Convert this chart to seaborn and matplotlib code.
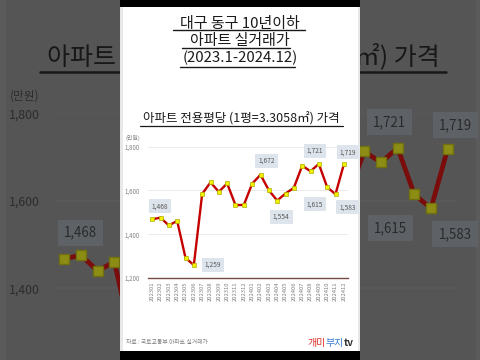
import matplotlib
matplotlib.use('Agg')
import matplotlib.pyplot as plt
import seaborn as sns
import pandas as pd
from matplotlib.patches import Rectangle
from matplotlib.lines import Line2D

# ---------------- data ----------------
months = ['202301', '202302', '202303', '202304', '202305', '202306',
          '202307', '202308', '202309', '202310', '202311', '202312',
          '202401', '202402', '202403', '202404', '202405', '202406',
          '202407', '202408', '202409', '202410', '202411', '202412']
prices = [1468, 1476, 1440, 1461, 1292, 1259,
          1584, 1637, 1594, 1632, 1533, 1534,
          1631, 1672, 1601, 1554, 1586, 1612,
          1713, 1688, 1721, 1615, 1583, 1719]
labeled_months = ['202301', '202306', '202402', '202404',
                  '202409', '202410', '202411', '202412']
y_ticks = [1200, 1400, 1600, 1800]
title_lines = ['대구 동구 10년이하', '아파트 실거래가', '(2023.1-2024.12)']
chart_title = '아파트 전용평당 (1평=3.3058㎡) 가격'
unit_label = '(만원)'
source_text = '자료 : 국토교통부 아파트 실거래가'
logo_parts = ['개미', '부지', 'tv']

# ---------------- layout (pixel positions in the 480x360 frame) ----------------
W, H = 480, 360
label_offsets = {  # px offsets (dx, dy, y down) of value boxes from their point
    '202301': (8, -13), '202306': (19, 0), '202402': (6, -14), '202404': (4, 16),
    '202409': (-4, -13), '202410': (-12, 17), '202411': (12, 13), '202412': (4, -12)}
underlines = [(29.6, 173, 305), (48.4, 182, 290), (67.0, 180, 295)]

sns.set_theme(style='white')
plt.rcParams['font.family'] = ['Noto Sans CJK KR', 'DejaVu Sans']

fig = plt.figure(figsize=(4.8, 3.6), dpi=100)
fig.patch.set_facecolor('#555555')
renderer = fig.canvas.get_renderer()


def P(x, y, s):
    X = 240 + s * (x - 240)
    Y = 180 + s * (y - 180)
    return X / W, 1 - Y / H


def rect(x0, y0, x1, y1, s, color, z):
    fx0, fy0 = P(x0, y1, s)
    fx1, fy1 = P(x1, y0, s)
    fig.add_artist(Rectangle((fx0, fy0), fx1 - fx0, fy1 - fy0,
                             transform=fig.transFigure, facecolor=color,
                             edgecolor='none', zorder=z))


def hline(x0, x1, y, s, color, lw, z):
    fx0, fy = P(x0, y, s)
    fx1, _ = P(x1, y, s)
    fig.add_artist(Line2D([fx0, fx1], [fy, fy], transform=fig.transFigure,
                          color=color, lw=lw, zorder=z))


def text(x, y, s, t, fs, color, z, ha='center', weight='normal', **kw):
    fx, fy = P(x, y, s)
    return fig.text(fx, fy, t, fontsize=fs * s, color=color, ha=ha, va='center',
                    zorder=z, fontweight=weight, **kw)


def draw_panel(s, pal, z, front):
    rect(120, 7, 360, 351, s, pal['panel'], z)
    rect(120, 7, 123, 351, s, pal['border'], z + 0.1)
    rect(358, 7, 360, 351, s, pal['border'], z + 0.1)

    if front:
        text(240, 41.3, s, '\n'.join(title_lines), 10.8, pal['title'], z + 2,
             linespacing=1.24, multialignment='center')
        for y, x0, x1 in underlines:
            hline(x0, x1, y, s, pal['title'], 1.0 * s, z + 2)

    text(241.5, 118.5, s, chart_title, 9, pal['title'], z + 2)
    hline(140, 343, 125.8, s, pal['title'], 0.9 * s, z + 2)
    text(125, 138, s, unit_label, 4.2, pal['tick'], z + 2, ha='left')

    # plot area
    fx0, fy0 = P(148, 278, s)
    fx1, fy1 = P(348, 146.7, s)
    ax = fig.add_axes([fx0, fy0, fx1 - fx0, fy1 - fy0])
    ax.set_zorder(z + 1)
    ax.patch.set_alpha(0)
    df = pd.DataFrame({'month': months, 'price': prices})
    sns.lineplot(data=df, x='month', y='price', ax=ax, color=pal['line'],
                 lw=1.7 * s, marker='s', ms=3.4 * s, mfc=pal['mfc'],
                 mec=pal['mec'], mew=0.5 * s)
    ax.set_xlim(-0.5, 23.5)
    ax.set_ylim(1200, 1800)
    ax.set_yticks(y_ticks)
    ax.set_yticklabels([f'{v:,}' for v in y_ticks])
    ax.tick_params(axis='y', length=0, pad=6 * s, labelsize=4.4 * s,
                   colors=pal['tick'])
    ax.tick_params(axis='x', length=0, pad=2.5 * s, labelsize=4.2 * s,
                   colors=pal['tick'], rotation=90)
    if not front:
        # enlarged backdrop: labels that fall outside the frame are not drawn
        ax.tick_params(axis='x', labelbottom=False)
        ax.get_yticklabels()[0].set_visible(False)
    ax.set_xlabel('')
    ax.set_ylabel('')
    ax.yaxis.grid(True, color=pal['grid'], lw=0.6 * s)
    ax.xaxis.grid(False)
    for side in ['left', 'right', 'top']:
        ax.spines[side].set_visible(False)
    ax.spines['bottom'].set_color(pal['spine'])
    ax.spines['bottom'].set_linewidth(1.0 * s)

    for m in labeled_months:
        i = months.index(m)
        v = prices[i]
        dx, dy = label_offsets[m]
        ax.annotate(f'{v:,}', xy=(i, v), xytext=(dx * 0.72 * s, -dy * 0.72 * s),
                    textcoords='offset points', ha='center', va='center',
                    fontsize=4.8 * s, color=pal['boxtext'],
                    bbox=dict(boxstyle='square,pad=0.45', fc=pal['box'], ec='none'),
                    annotation_clip=False, zorder=5)

    if front:
        text(126, 343, s, source_text, 4.2, pal['tick'], z + 2, ha='left')
        # logo: parts placed one after another
        x = 307.5
        for part, col, w in zip(logo_parts, [pal['logo1'], pal['logo2'], pal['logo3']],
                                ['normal', 'normal', 'bold']):
            t = text(x, 343, s, part, 7.2, col, z + 2, ha='left', weight=w)
            bb = t.get_window_extent(renderer)
            x += bb.width


dark = dict(panel='#555555', border='#5b5b5b', title='#181818', line='#7a0c0c',
            mfc='#8d8d16', mec='#707010', tick='#2c2c2c', grid='#5a5a5a',
            spine='#3a2a2a', box='#5e6267', boxtext='#2a2a2a')
light = dict(panel='white', border='#e8e8e8', title='#1a1a1a', line='#c40000',
             mfc='#f0f000', mec='#b0b000', tick='#808080', grid='#e8e8e8',
             spine='#7a4a4a', box='#dde4ec', boxtext='#5a5a5a',
             logo1='#e0302a', logo2='#3a7fd2', logo3='#303030')

draw_panel(2.0, dark, 0, front=False)
draw_panel(1.0, light, 10, front=True)
rect(120, 0, 360, 7, 1.0, 'black', 20)
rect(120, 351, 360, 360, 1.0, 'black', 20)

fig.savefig('out.png', dpi=100, facecolor=fig.get_facecolor())
